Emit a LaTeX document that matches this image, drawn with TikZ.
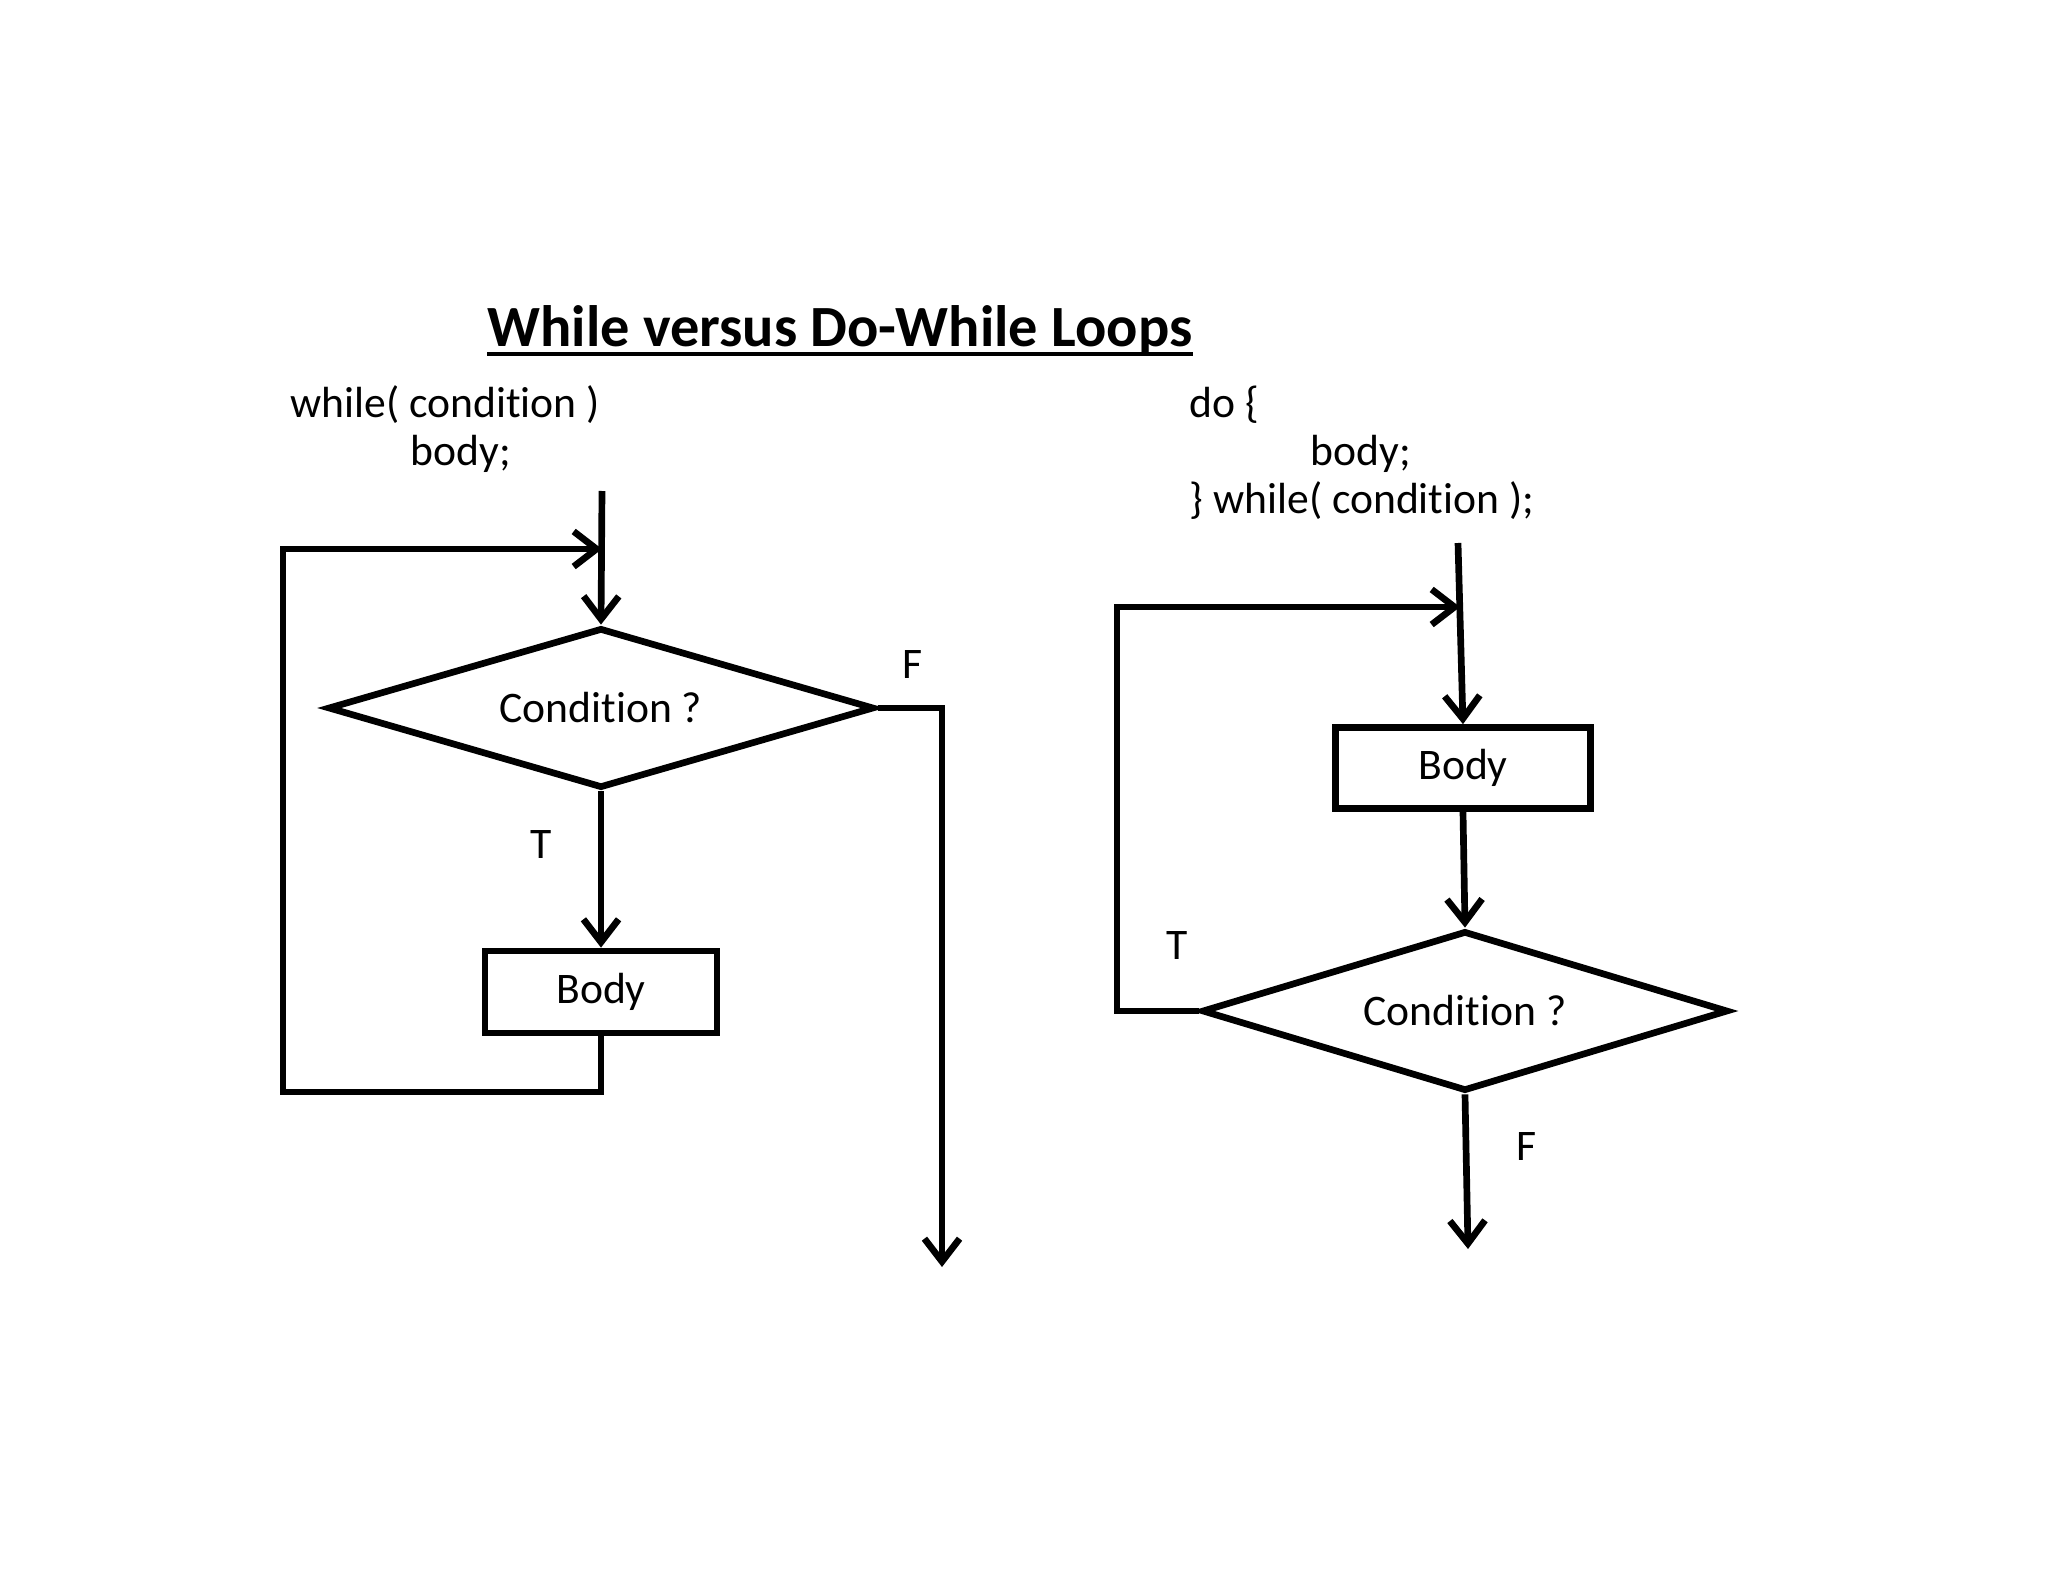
\documentclass[tikz,border=0pt]{standalone}
\usepackage{fontspec}
\setmainfont{Carlito}[Ligatures=NoCommon]
\usetikzlibrary{arrows.meta,shapes.geometric}
\begin{document}
\begin{tikzpicture}[x=0.01cm,y=-0.01cm,
  line/.style={line width=1.9pt},
  arr/.style={line width=1.9pt,-{Straight Barb[length=6.5pt,width=10pt,line width=1.9pt]}},
  dec/.style={draw,line width=1.9pt,diamond,aspect=3.4,inner sep=0pt,minimum width=5.46cm,minimum height=1.6cm,font=\fontsize{12.4}{15}\selectfont},
  blk/.style={draw,line width=1.9pt,rectangle,inner sep=0pt,font=\fontsize{12.4}{15}\selectfont},
  code/.style={anchor=base west,inner sep=0pt,font=\fontsize{12.4}{15}\selectfont},
  lbl/.style={inner sep=0pt,font=\fontsize{12.4}{15}\selectfont}]
\useasboundingbox (0,0) rectangle (2048,1582);
\fill[white] (0,0) rectangle (2048,1582);
% title
\node[anchor=base west,inner sep=0pt,font=\fontsize{16.6}{20}\selectfont\bfseries] (title) at (487,347) {While versus Do-While Loops};
\draw[line width=1.1pt] ([yshift=-2pt]title.base west) -- ([yshift=-2pt]title.base east);
% code
\node[code] (c1) at (290,417) {while( condition )};
\node[code] (c2) at (410,465) {body;};
\node[code] (c3) at (1189,417) {do \{};
\node[code] (c4) at (1310,465) {body;};
\node[code] (c5) at (1189,513) {\} while( condition );};
% left flowchart
\node[dec] (d1) at (601,708) {Condition ?};
\node[blk,minimum width=2.32cm,minimum height=0.82cm] (b1) at (601,992) {Body};
\coordinate (ls) at (602,491);
\coordinate (lj) at (602,549);
\coordinate (lbl) at (283,1092);
\coordinate (ltl) at (283,549);
\coordinate (lf) at (942,1267);
\draw[arr] (ls) -- (d1.north);
\draw[arr] (d1.south) -- (b1.north);
\draw[arr] (b1.south) |- (lbl) -- (ltl) -- (lj);
\draw[arr] (d1.east) -| (lf);
\node[lbl] (f1) at (913,665) {F};
\node[lbl] (t1) at (541,845) {T};
% right flowchart
\node[blk,minimum width=2.55cm,minimum height=0.81cm] (b2) at (1463,768) {Body};
\node[dec,minimum width=5.26cm] (d2) at (1465,1011) {Condition ?};
\coordinate (rs) at (1458,543);
\coordinate (rj) at (1460,607);
\coordinate (rcl) at (1117,607);
\coordinate (rf) at (1468,1249);
\draw[arr] (rs) -- (b2.north);
\draw[arr] (b2.south) -- (d2.north);
\draw[arr] (d2.west) -| (rcl) -- (rj);
\draw[arr] (d2.south) -- (rf);
\node[lbl] (t2) at (1177,946) {T};
\node[lbl] (f2) at (1526,1147) {F};
\end{tikzpicture}
\end{document}
